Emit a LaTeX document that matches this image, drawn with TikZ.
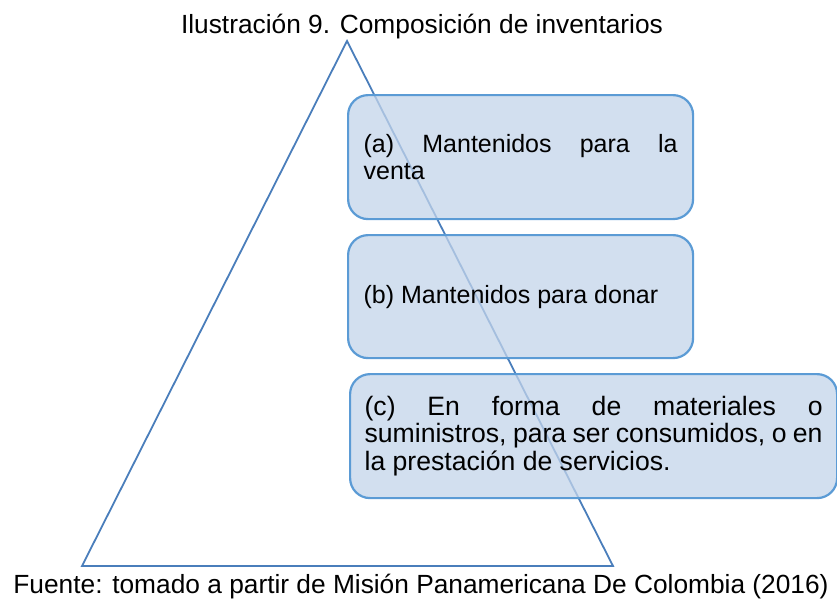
\documentclass[tikz,border=0pt]{standalone}
\usepackage{fontspec}
\setmainfont{Liberation Sans}
\usetikzlibrary{positioning}

\definecolor{boxline}{RGB}{91,155,213}
\definecolor{boxfill}{RGB}{195,212,234}
\definecolor{triline}{RGB}{74,126,187}

\tikzset{
  layer/.style={draw=boxline, line width=2.2pt, fill=boxfill, fill opacity=0.75, text opacity=1,
    rounded corners=20pt, anchor=north west, inner xsep=15pt, align=justify,
    font=\fontsize{25}{27}\selectfont},
  caption/.style={font=\fontsize{26.3}{30}\selectfont, anchor=base},
}

\begin{document}
\hyphenpenalty=10000
\hbadness=10000
\begin{tikzpicture}[x=1pt,y=-1pt]
  \useasboundingbox (0,0) rectangle (837,598);

  % triangle
  \coordinate(apex)  at (347,41);
  \coordinate(baseL) at (82,566);
  \coordinate(baseR) at (613,566);
  \draw[triline, line width=1.8pt] (apex) -- (baseR) -- (baseL) -- cycle;

  % layers
  \node(venta) [layer, minimum width=345pt, minimum height=124pt, text width=314pt, inner xsep=15.5pt] at (347,94)
    {(a) Mantenidos para la\linebreak venta};
  \node(donar) [layer, minimum width=345pt, minimum height=123pt, text width=314pt, inner xsep=15.5pt,
    below=13.8pt of venta.south west, anchor=north west]
    {(b) Mantenidos para donar};
  \node(consumo) [layer, minimum width=487pt, minimum height=124pt, text width=458pt, inner xsep=14.5pt,
    font=\fontsize{26.6}{27.6}\selectfont,
    below right=13.8pt and 2pt of donar.south west, anchor=north west]
    {(c) En forma de materiales o\linebreak suministros, para ser consumidos, o en\linebreak la prestación de servicios.};

  % captions
  \node(titulo) [caption] at (422,33) {Ilustración 9. Composición de inventarios};
  \node(fuente) [caption] at (421,593) {Fuente: tomado a partir de Misión Panamericana De Colombia (2016)};
\end{tikzpicture}
\end{document}
